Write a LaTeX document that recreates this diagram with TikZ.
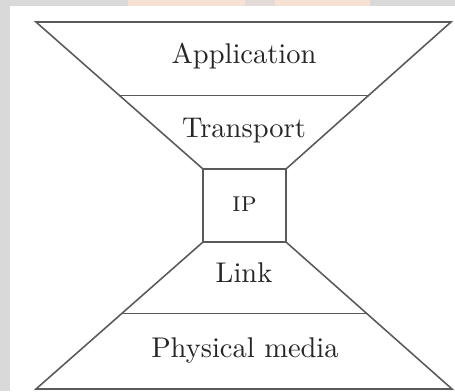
\documentclass[tikz,border=0pt]{standalone}
\usetikzlibrary{calc}
\definecolor{frame}{HTML}{D9D9D9}
\definecolor{peach}{HTML}{F7E1D3}
\definecolor{edge}{HTML}{5A5A5A}
\begin{document}
\begin{tikzpicture}[x=0.351pt,y=-0.351pt,
  layer/.style={line width=0.55pt,draw=edge,line join=miter},
  lbl/.style={inner sep=0pt,anchor=base,text=black!85}]
  % canvas and outer frame
  \useasboundingbox (0,0) rectangle (455,391);
  \fill[white] (0,0) rectangle (455,391);
  \fill[frame] (0,0) rectangle (455,6);
  \fill[frame] (0,0) rectangle (10,391);
  \fill[peach] (128,0) rectangle (370,6);
  \fill[frame!70!peach] (245,0) rectangle (275,6);

  % corner points of the hourglass
  \coordinate (tl) at (36,22);
  \coordinate (tr) at (451,22);
  \coordinate (bl) at (36,389);
  \coordinate (br) at (452,389);
  \coordinate (ipnw) at (203,169);
  \coordinate (ipne) at (286,169);
  \coordinate (ipsw) at (203,242);
  \coordinate (ipse) at (286,242);

  % upper funnel: application and transport
  \draw[layer] (tl) -- (tr) -- (ipne) -- (ipnw) -- cycle;
  \draw[layer] ($(tl)!0.5!(ipnw)$) coordinate (ul) -- ($(tr)!0.5!(ipne)$) coordinate (ur);

  % narrow waist: IP
  \draw[layer] (ipnw) rectangle (ipse);

  % lower funnel: link and physical media
  \draw[layer] (ipsw) -- (ipse) -- (br) -- (bl) -- cycle;
  \draw[layer] ($(ipsw)!0.485!(bl)$) coordinate (ll) -- ($(ipse)!0.485!(br)$) coordinate (lr);

  % layer labels
  \node[lbl] (app)  at (244,63)  {Application};
  \node[lbl] (tra)  at (244,137) {Transport};
  \node[lbl] (ip)   at (244.5,211) {\textsc{ip}};
  \node[lbl] (link) at (244,282) {Link};
  \node[lbl] (phy)  at (245,357) {Physical media};
\end{tikzpicture}
\end{document}
